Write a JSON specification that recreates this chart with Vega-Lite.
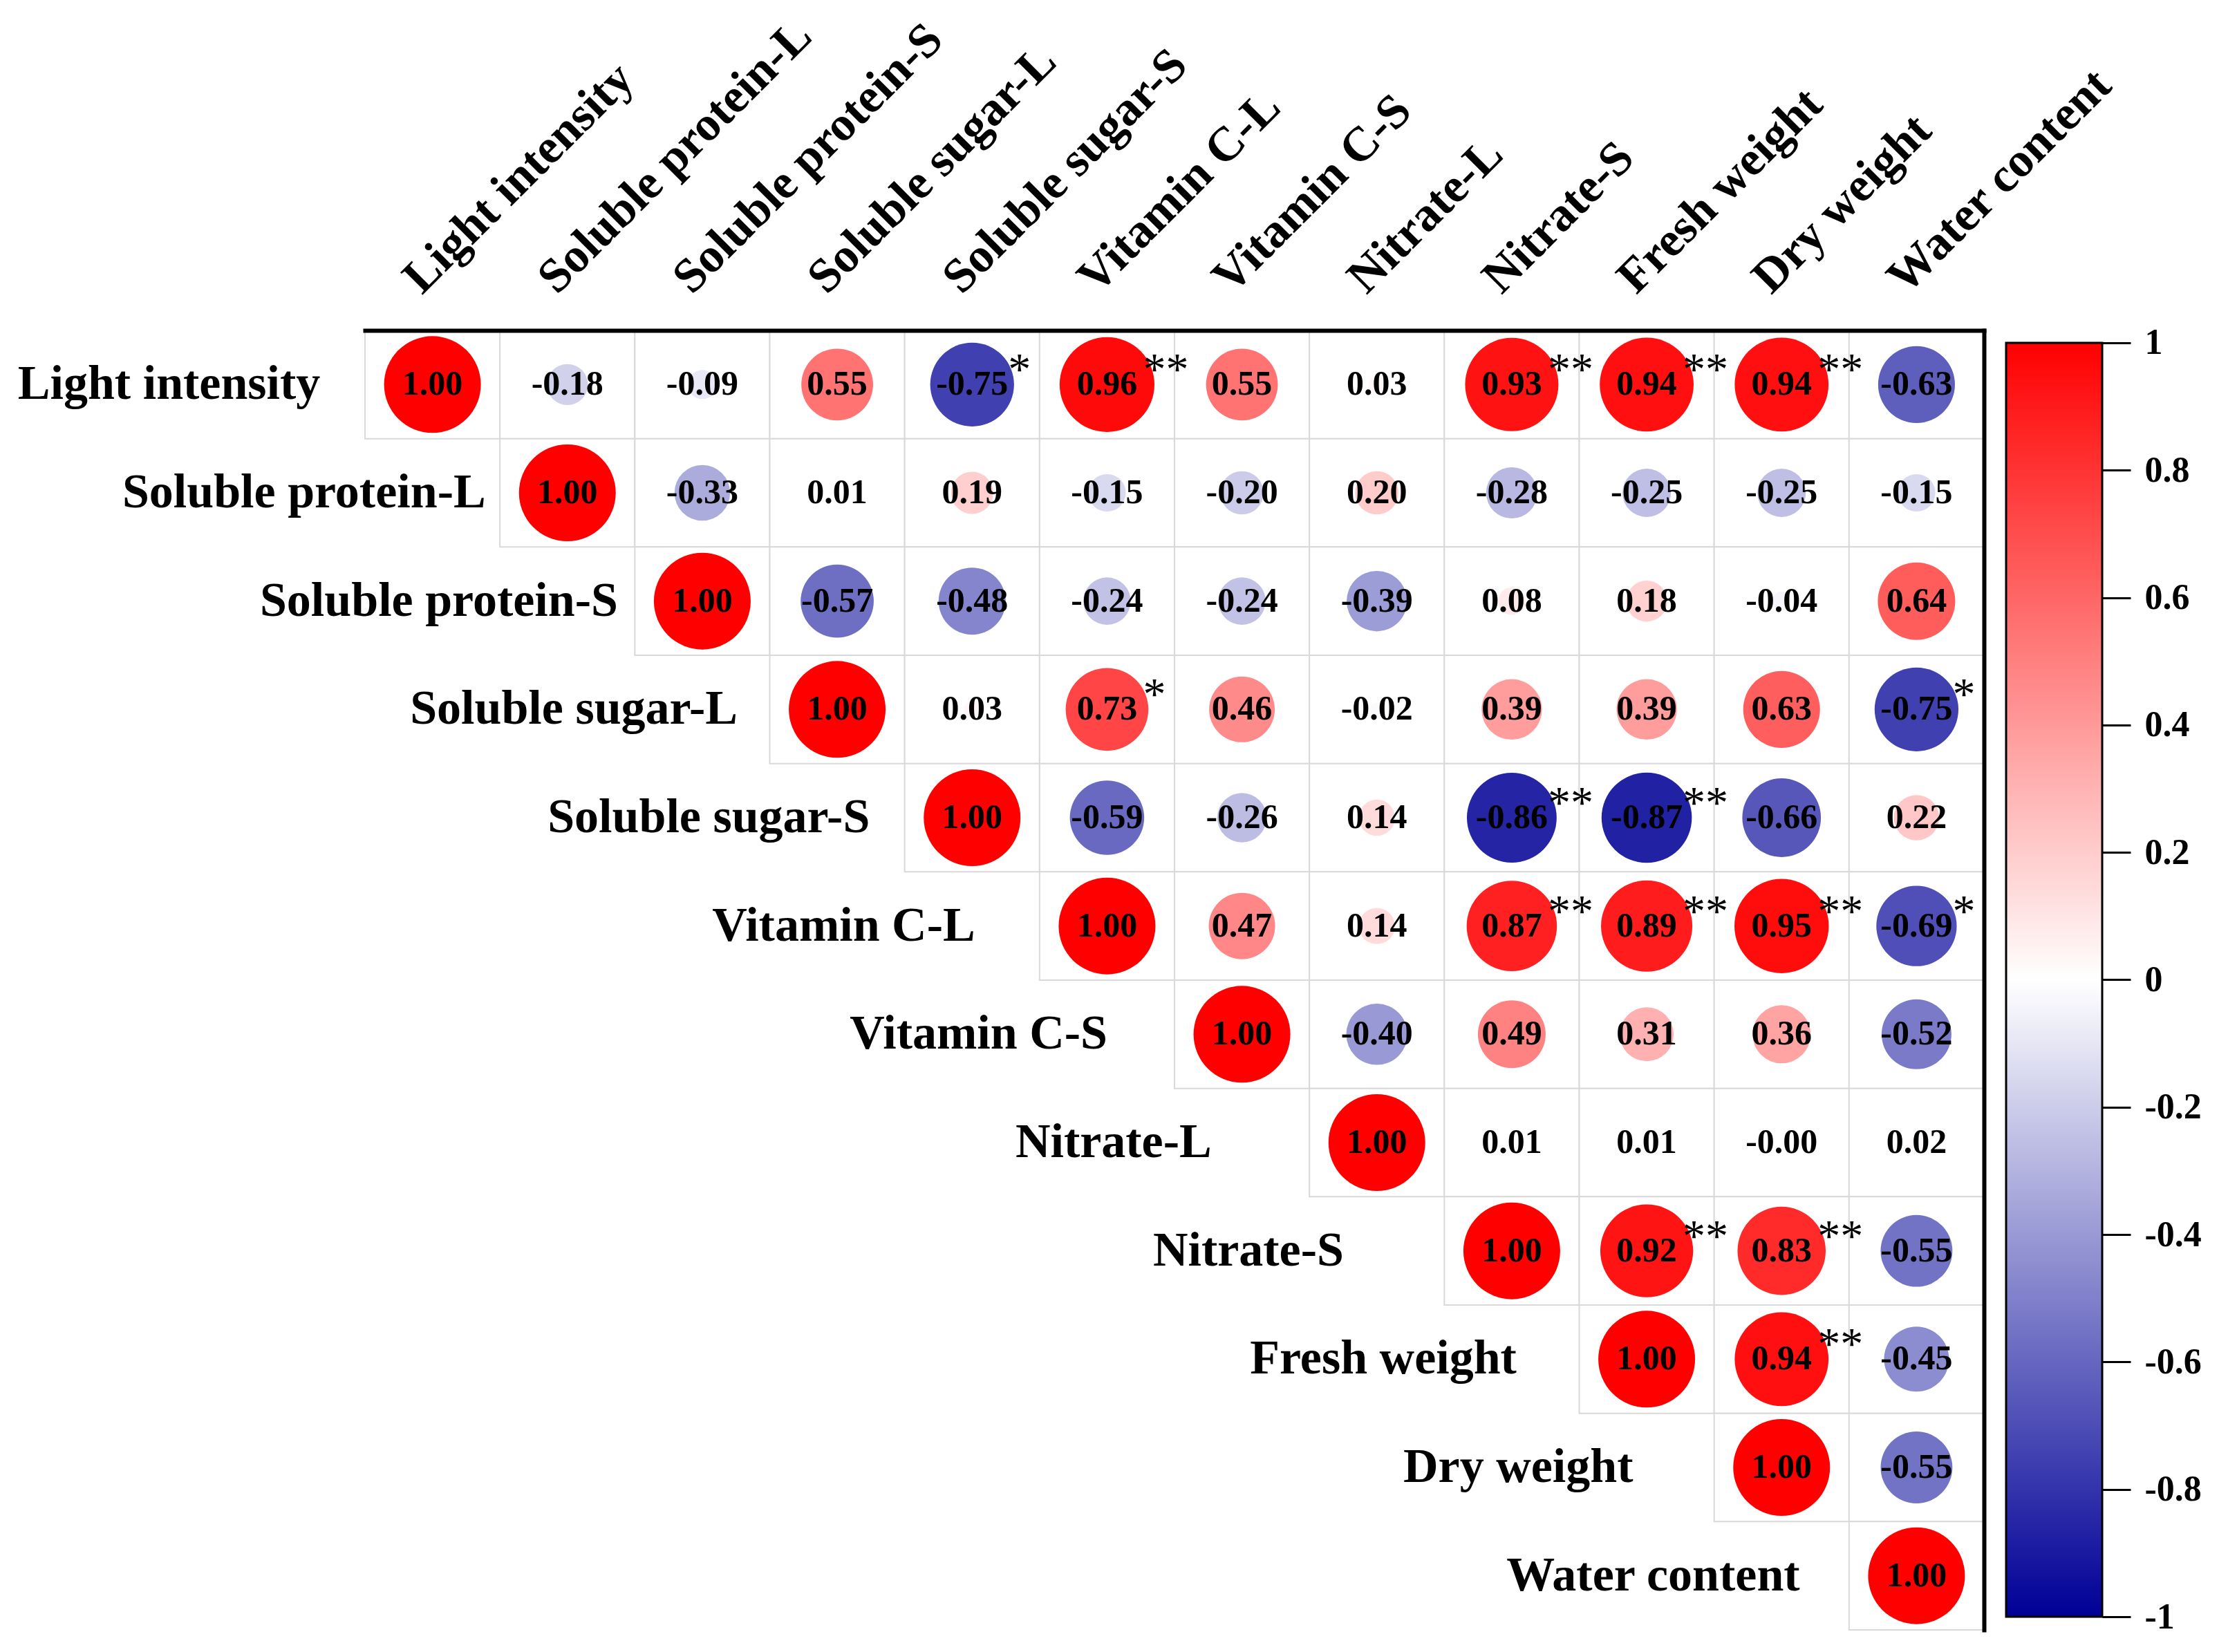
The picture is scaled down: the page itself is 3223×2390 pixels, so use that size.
{
  "$schema": "https://vega.github.io/schema/vega-lite/v6.json",
  "width": 2342,
  "height": 1880,
  "autosize": {"type": "none"},
  "padding": {"left": 528, "top": 478, "right": 353, "bottom": 32},
  "background": "white",
  "config": {
    "view": {"stroke": null},
    "legend": {"gradientVerticalMaxLength": 3000, "gradientVerticalMinLength": 10}
  },
  "data": {
    "values": [
      {"row": "Light intensity", "col": "Light intensity", "r": 1, "label": "1.00"},
      {"row": "Light intensity", "col": "Soluble protein-L", "r": -0.18, "label": "-0.18"},
      {"row": "Light intensity", "col": "Soluble protein-S", "r": -0.09, "label": "-0.09"},
      {"row": "Light intensity", "col": "Soluble sugar-L", "r": 0.55, "label": "0.55"},
      {"row": "Light intensity", "col": "Soluble sugar-S", "r": -0.75, "label": "-0.75", "sig": "*"},
      {"row": "Light intensity", "col": "Vitamin C-L", "r": 0.96, "label": "0.96", "sig": "**"},
      {"row": "Light intensity", "col": "Vitamin C-S", "r": 0.55, "label": "0.55"},
      {"row": "Light intensity", "col": "Nitrate-L", "r": 0.03, "label": "0.03"},
      {"row": "Light intensity", "col": "Nitrate-S", "r": 0.93, "label": "0.93", "sig": "**"},
      {"row": "Light intensity", "col": "Fresh weight", "r": 0.94, "label": "0.94", "sig": "**"},
      {"row": "Light intensity", "col": "Dry weight", "r": 0.94, "label": "0.94", "sig": "**"},
      {"row": "Light intensity", "col": "Water content", "r": -0.63, "label": "-0.63"},
      {"row": "Soluble protein-L", "col": "Soluble protein-L", "r": 1, "label": "1.00"},
      {"row": "Soluble protein-L", "col": "Soluble protein-S", "r": -0.33, "label": "-0.33"},
      {"row": "Soluble protein-L", "col": "Soluble sugar-L", "r": 0.01, "label": "0.01"},
      {"row": "Soluble protein-L", "col": "Soluble sugar-S", "r": 0.19, "label": "0.19"},
      {"row": "Soluble protein-L", "col": "Vitamin C-L", "r": -0.15, "label": "-0.15"},
      {"row": "Soluble protein-L", "col": "Vitamin C-S", "r": -0.2, "label": "-0.20"},
      {"row": "Soluble protein-L", "col": "Nitrate-L", "r": 0.2, "label": "0.20"},
      {"row": "Soluble protein-L", "col": "Nitrate-S", "r": -0.28, "label": "-0.28"},
      {"row": "Soluble protein-L", "col": "Fresh weight", "r": -0.25, "label": "-0.25"},
      {"row": "Soluble protein-L", "col": "Dry weight", "r": -0.25, "label": "-0.25"},
      {"row": "Soluble protein-L", "col": "Water content", "r": -0.15, "label": "-0.15"},
      {"row": "Soluble protein-S", "col": "Soluble protein-S", "r": 1, "label": "1.00"},
      {"row": "Soluble protein-S", "col": "Soluble sugar-L", "r": -0.57, "label": "-0.57"},
      {"row": "Soluble protein-S", "col": "Soluble sugar-S", "r": -0.48, "label": "-0.48"},
      {"row": "Soluble protein-S", "col": "Vitamin C-L", "r": -0.24, "label": "-0.24"},
      {"row": "Soluble protein-S", "col": "Vitamin C-S", "r": -0.24, "label": "-0.24"},
      {"row": "Soluble protein-S", "col": "Nitrate-L", "r": -0.39, "label": "-0.39"},
      {"row": "Soluble protein-S", "col": "Nitrate-S", "r": 0.08, "label": "0.08"},
      {"row": "Soluble protein-S", "col": "Fresh weight", "r": 0.18, "label": "0.18"},
      {"row": "Soluble protein-S", "col": "Dry weight", "r": -0.04, "label": "-0.04"},
      {"row": "Soluble protein-S", "col": "Water content", "r": 0.64, "label": "0.64"},
      {"row": "Soluble sugar-L", "col": "Soluble sugar-L", "r": 1, "label": "1.00"},
      {"row": "Soluble sugar-L", "col": "Soluble sugar-S", "r": 0.03, "label": "0.03"},
      {"row": "Soluble sugar-L", "col": "Vitamin C-L", "r": 0.73, "label": "0.73", "sig": "*"},
      {"row": "Soluble sugar-L", "col": "Vitamin C-S", "r": 0.46, "label": "0.46"},
      {"row": "Soluble sugar-L", "col": "Nitrate-L", "r": -0.02, "label": "-0.02"},
      {"row": "Soluble sugar-L", "col": "Nitrate-S", "r": 0.39, "label": "0.39"},
      {"row": "Soluble sugar-L", "col": "Fresh weight", "r": 0.39, "label": "0.39"},
      {"row": "Soluble sugar-L", "col": "Dry weight", "r": 0.63, "label": "0.63"},
      {"row": "Soluble sugar-L", "col": "Water content", "r": -0.75, "label": "-0.75", "sig": "*"},
      {"row": "Soluble sugar-S", "col": "Soluble sugar-S", "r": 1, "label": "1.00"},
      {"row": "Soluble sugar-S", "col": "Vitamin C-L", "r": -0.59, "label": "-0.59"},
      {"row": "Soluble sugar-S", "col": "Vitamin C-S", "r": -0.26, "label": "-0.26"},
      {"row": "Soluble sugar-S", "col": "Nitrate-L", "r": 0.14, "label": "0.14"},
      {"row": "Soluble sugar-S", "col": "Nitrate-S", "r": -0.86, "label": "-0.86", "sig": "**"},
      {"row": "Soluble sugar-S", "col": "Fresh weight", "r": -0.87, "label": "-0.87", "sig": "**"},
      {"row": "Soluble sugar-S", "col": "Dry weight", "r": -0.66, "label": "-0.66"},
      {"row": "Soluble sugar-S", "col": "Water content", "r": 0.22, "label": "0.22"},
      {"row": "Vitamin C-L", "col": "Vitamin C-L", "r": 1, "label": "1.00"},
      {"row": "Vitamin C-L", "col": "Vitamin C-S", "r": 0.47, "label": "0.47"},
      {"row": "Vitamin C-L", "col": "Nitrate-L", "r": 0.14, "label": "0.14"},
      {"row": "Vitamin C-L", "col": "Nitrate-S", "r": 0.87, "label": "0.87", "sig": "**"},
      {"row": "Vitamin C-L", "col": "Fresh weight", "r": 0.89, "label": "0.89", "sig": "**"},
      {"row": "Vitamin C-L", "col": "Dry weight", "r": 0.95, "label": "0.95", "sig": "**"},
      {"row": "Vitamin C-L", "col": "Water content", "r": -0.69, "label": "-0.69", "sig": "*"},
      {"row": "Vitamin C-S", "col": "Vitamin C-S", "r": 1, "label": "1.00"},
      {"row": "Vitamin C-S", "col": "Nitrate-L", "r": -0.4, "label": "-0.40"},
      {"row": "Vitamin C-S", "col": "Nitrate-S", "r": 0.49, "label": "0.49"},
      {"row": "Vitamin C-S", "col": "Fresh weight", "r": 0.31, "label": "0.31"},
      {"row": "Vitamin C-S", "col": "Dry weight", "r": 0.36, "label": "0.36"},
      {"row": "Vitamin C-S", "col": "Water content", "r": -0.52, "label": "-0.52"},
      {"row": "Nitrate-L", "col": "Nitrate-L", "r": 1, "label": "1.00"},
      {"row": "Nitrate-L", "col": "Nitrate-S", "r": 0.01, "label": "0.01"},
      {"row": "Nitrate-L", "col": "Fresh weight", "r": 0.01, "label": "0.01"},
      {"row": "Nitrate-L", "col": "Dry weight", "r": -0.001, "label": "-0.00"},
      {"row": "Nitrate-L", "col": "Water content", "r": 0.02, "label": "0.02"},
      {"row": "Nitrate-S", "col": "Nitrate-S", "r": 1, "label": "1.00"},
      {"row": "Nitrate-S", "col": "Fresh weight", "r": 0.92, "label": "0.92", "sig": "**"},
      {"row": "Nitrate-S", "col": "Dry weight", "r": 0.83, "label": "0.83", "sig": "**"},
      {"row": "Nitrate-S", "col": "Water content", "r": -0.55, "label": "-0.55"},
      {"row": "Fresh weight", "col": "Fresh weight", "r": 1, "label": "1.00"},
      {"row": "Fresh weight", "col": "Dry weight", "r": 0.94, "label": "0.94", "sig": "**"},
      {"row": "Fresh weight", "col": "Water content", "r": -0.45, "label": "-0.45"},
      {"row": "Dry weight", "col": "Dry weight", "r": 1, "label": "1.00"},
      {"row": "Dry weight", "col": "Water content", "r": -0.55, "label": "-0.55"},
      {"row": "Water content", "col": "Water content", "r": 1, "label": "1.00"}
    ]
  },
  "resolve": {"scale": {"y": "independent"}, "axis": {"y": "independent"}},
  "layer": [
    {
      "encoding": {
        "x": {
          "field": "col", "type": "nominal",
          "scale": {
            "domain": ["Light intensity", "Soluble protein-L", "Soluble protein-S", "Soluble sugar-L", "Soluble sugar-S", "Vitamin C-L", "Vitamin C-S", "Nitrate-L", "Nitrate-S", "Fresh weight", "Dry weight", "Water content"],
            "paddingInner": 0, "paddingOuter": 0
          },
          "axis": {
            "orient": "top", "title": null, "ticks": false, "tickSize": 0, "grid": false,
            "domain": true, "domainColor": "black", "domainWidth": 6, "domainCap": "square",
            "labelAngle": -45, "labelAlign": "left", "labelBaseline": "alphabetic",
            "labelPadding": 51, "labelOffset": -15,
            "labelFont": "Liberation Serif", "labelFontWeight": "bold", "labelFontSize": 70,
            "labelColor": "black", "labelLimit": 0, "labelOverlap": false
          }
        },
        "y": {
          "field": "row", "type": "nominal",
          "scale": {
            "domain": ["Light intensity", "Soluble protein-L", "Soluble protein-S", "Soluble sugar-L", "Soluble sugar-S", "Vitamin C-L", "Vitamin C-S", "Nitrate-L", "Nitrate-S", "Fresh weight", "Dry weight", "Water content"],
            "paddingInner": 0, "paddingOuter": 0
          },
          "axis": {
            "orient": "right", "title": null, "ticks": false, "labels": false, "grid": false,
            "domain": true, "domainColor": "black", "domainWidth": 6, "domainCap": "square"
          }
        }
      },
      "layer": [
        {
          "mark": {"type": "rect", "fill": "white", "stroke": "#D9D9D9", "strokeWidth": 2}
        },
        {
          "transform": [{"calculate": "abs(datum.r)", "as": "absr"}],
          "mark": {"type": "circle", "opacity": 1},
          "encoding": {
            "size": {"field": "absr", "type": "quantitative", "scale": {"domain": [0, 1], "range": [0, 19600], "zero": true}, "legend": null},
            "color": {
              "field": "r", "type": "quantitative",
              "scale": {"domain": [-1, 0, 1], "range": ["#000096", "#FFFFFF", "#FF0000"], "interpolate": "rgb"},
              "legend": {
                "orient": "none", "legendX": 2374, "legendY": 18, "direction": "vertical",
                "title": null, "gradientLength": 1843, "gradientThickness": 139,
                "gradientStrokeColor": "black", "gradientStrokeWidth": 3,
                "labelOpacity": 0, "padding": 0, "offset": 0
              }
            }
          }
        },
        {
          "mark": {"type": "text", "font": "Liberation Serif", "fontWeight": "bold", "fontSize": 50, "color": "black", "baseline": "middle", "align": "center"},
          "encoding": {"text": {"field": "label", "type": "nominal"}}
        },
        {
          "transform": [{"filter": "datum.sig"}],
          "mark": {"type": "text", "font": "Liberation Serif", "fontSize": 66, "color": "black", "baseline": "middle", "align": "left", "dx": 52, "dy": -20},
          "encoding": {"text": {"field": "sig", "type": "nominal"}}
        },
        {
          "transform": [{"filter": "datum.row === datum.col"}],
          "mark": {"type": "text", "font": "Liberation Serif", "fontWeight": "bold", "fontSize": 70, "color": "black", "baseline": "middle", "align": "center", "dx": -381},
          "encoding": {"text": {"field": "row", "type": "nominal"}}
        }
      ]
    },
    {
      "mark": {"type": "point", "opacity": 0},
      "encoding": {
        "y": {
          "field": "r", "type": "quantitative",
          "scale": {"domain": [-1.0206, 1.0195], "nice": false, "zero": false},
          "axis": {
            "orient": "right", "offset": 171, "title": null, "grid": false, "domain": false,
            "values": [-1, -0.8, -0.6, -0.4, -0.2, 0, 0.2, 0.4, 0.6, 0.8, 1],
            "ticks": true, "tickSize": 41, "tickColor": "black", "tickWidth": 3,
            "labelExpr": "toString(datum.value)", "labelPadding": 20,
            "labelFont": "Liberation Serif", "labelFontWeight": "bold", "labelFontSize": 52,
            "labelColor": "black", "labelAlign": "left", "labelBaseline": "middle", "labelOverlap": false
          }
        }
      }
    }
  ]
}
